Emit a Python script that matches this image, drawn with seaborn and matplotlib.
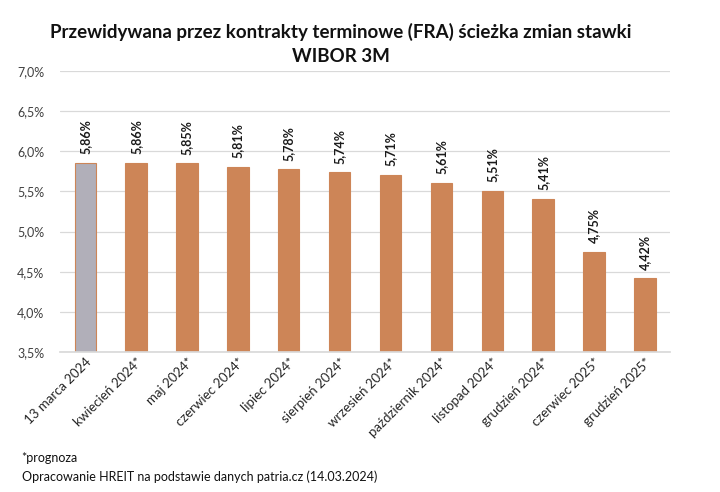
import matplotlib
matplotlib.use("Agg")
import matplotlib.pyplot as plt
import seaborn as sns
import pandas as pd
from matplotlib.ticker import FuncFormatter

categories = ["13 marca 2024", "kwiecień 2024*", "maj 2024*", "czerwiec 2024*", "lipiec 2024*",
              "sierpień 2024*", "wrzesień 2024*", "październik 2024*", "listopad 2024*",
              "grudzień 2024*", "czerwiec 2025*", "grudzień 2025*"]
values = [5.86, 5.86, 5.85, 5.81, 5.78, 5.74, 5.71, 5.61, 5.51, 5.41, 4.75, 4.42]
kinds = ["actual"] + ["forecast"] * 11
yticks = [3.5, 4.0, 4.5, 5.0, 5.5, 6.0, 6.5, 7.0]

sns.set_theme(style="white")
plt.rcParams["font.family"] = ["Lato", "DejaVu Sans"]

df = pd.DataFrame({"cat": categories, "val": values, "kind": kinds})
orange = "#CD8557"
gray = "#B1AFB9"

fig = plt.figure(figsize=(7.2, 4.92), dpi=100)
ax = fig.add_axes([0.083, 0.2846, 0.848, 0.5711])
sns.barplot(data=df, x="cat", y="val", hue="kind", palette={"actual": gray, "forecast": orange},
            width=0.42, dodge=False, legend=False, ax=ax, saturation=1)
for p in ax.patches:
    p.set_edgecolor(orange)
    p.set_linewidth(0.8)

ax.set_ylim(3.5, 7.0)
ax.set_xlim(-0.5, len(categories) - 0.5)
ax.set_yticks(yticks)
ax.yaxis.set_major_formatter(FuncFormatter(lambda v, p: f"{v:.1f}%".replace(".", ",")))
ax.grid(axis="y", color="#D9D9D9", linewidth=0.9)
ax.set_axisbelow(True)
for s in ["top", "right", "left"]:
    ax.spines[s].set_visible(False)
ax.spines["bottom"].set_color("#D9D9D9")
ax.set_xlabel("")
ax.set_ylabel("")
ax.tick_params(axis="y", labelsize=9, colors="#404040", length=0, pad=11)
ax.tick_params(axis="x", labelsize=9.5, colors="#262626", length=0, pad=3)
plt.setp(ax.get_xticklabels(), rotation=45, ha="right", rotation_mode="anchor")

for i, v in enumerate(values):
    ax.annotate(f"{v:.2f}%".replace(".", ","), (i, v), xytext=(0, 6), textcoords="offset points",
                rotation=90, ha="center", va="bottom", fontsize=9, fontweight="bold", color="#1a1a1a")

fig.text(0.473, 0.911, "Przewidywana przez kontrakty terminowe (FRA) ścieżka zmian stawki\nWIBOR 3M",
         ha="center", va="center", fontsize=13.5, fontweight="bold", linespacing=1.5, color="#111111")
fig.text(0.03, 0.06, "*prognoza", fontsize=9, color="#111111")
fig.text(0.03, 0.023, "Opracowanie HREIT na podstawie danych patria.cz (14.03.2024)", fontsize=9, color="#111111")

fig.savefig("out.png", dpi=100)
